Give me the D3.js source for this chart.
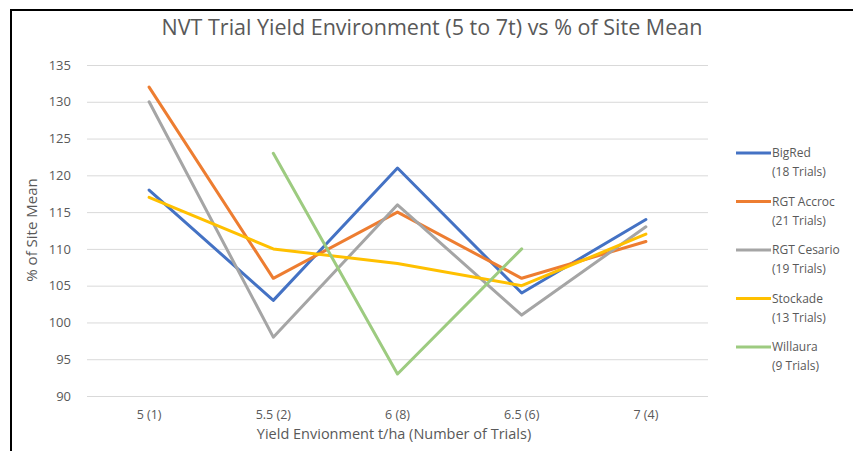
<!DOCTYPE html>
<html lang="en">
  <head>
    <meta charset="utf-8">
    <title>NVT Trial Yield Environment</title>
    <script src="https://cdnjs.cloudflare.com/ajax/libs/d3/7.8.0/d3.min.js"></script>
    <style>
      body { margin: 0; background: #fff; }
      text { font-family: "Open Sans", "Noto Sans", sans-serif; fill: #595959; }
    </style>
  </head>
  <body>
    <div id="chartContainer"></div>

    <script type="text/javascript">
      // categories along the x axis
      var categories = ["5 (1)", "5.5 (2)", "6 (8)", "6.5 (6)", "7 (4)"];

      // series values, % of site mean (null = no trials)
      var seriesNames = ["BigRed", "RGT Accroc", "RGT Cesario", "Stockade", "Willaura"];
      var seriesTrials = ["(18 Trials)", "(21 Trials)", "(19 Trials)", "(13 Trials)", "(9 Trials)"];
      var bigRed     = [118, 103, 121, 104, 114];
      var rgtAccroc  = [132, 106, 115, 106, 111];
      var rgtCesario = [130, 98, 116, 101, 113];
      var stockade   = [117, 110, 108, 105, 112];
      var willaura   = [null, 123, 93, 110, null];
      var seriesColors = ["#4472C4", "#ED7D31", "#A5A5A5", "#FFC000", "#9DCB80"];

      var yTicks = [90, 95, 100, 105, 110, 115, 120, 125, 130, 135];

      var series = [bigRed, rgtAccroc, rgtCesario, stockade, willaura].map(function(vals, i) {
        return { name: seriesNames[i], trials: seriesTrials[i], color: seriesColors[i], values: vals };
      });

      var W = 853, H = 451;
      var plot = { left: 87, right: 708, top: 65, bottom: 396 };

      var svg = d3.select("#chartContainer")
                  .append("svg")
                  .attr("width", W)
                  .attr("height", H);

      // picture frame
      svg.append("rect")
         .attr("x", 11).attr("y", 10)
         .attr("width", W + 20).attr("height", H + 20)
         .attr("fill", "none")
         .attr("stroke", "#000")
         .attr("stroke-width", 2);

      var x = d3.scaleBand()
                .domain(categories)
                .range([plot.left, plot.right]);

      var y = d3.scaleLinear()
                .domain([90, 135])
                .range([plot.bottom, plot.top]);

      // gridlines
      svg.append("g")
         .attr("transform", "translate(" + plot.left + ",0)")
         .call(d3.axisLeft(y).tickValues(yTicks).tickSize(-(plot.right - plot.left)).tickFormat(""))
         .call(function(g) {
           g.select(".domain").remove();
           g.selectAll("line").attr("stroke", "#D9D9D9").attr("stroke-width", 1);
         });

      // y tick labels
      svg.append("g")
         .attr("transform", "translate(" + (plot.left - 13) + ",0)")
         .call(d3.axisLeft(y).tickValues(yTicks).tickSize(0))
         .call(function(g) {
           g.select(".domain").remove();
           g.selectAll("text").attr("font-size", 13).attr("fill", "#595959")
            .style("font-family", "'Open Sans', sans-serif");
         });

      // x tick labels
      svg.append("g")
         .attr("transform", "translate(0," + (plot.bottom + 11) + ")")
         .call(d3.axisBottom(x).tickSize(0))
         .call(function(g) {
           g.select(".domain").remove();
           g.selectAll("text").attr("font-size", 12.5).attr("fill", "#595959")
            .style("font-family", "'Open Sans', sans-serif");
         });

      // title
      svg.append("text")
         .attr("x", 432).attr("y", 35)
         .attr("text-anchor", "middle")
         .attr("font-size", 21.5)
         .text("NVT Trial Yield Environment (5 to 7t) vs % of Site Mean");

      // axis titles
      svg.append("text")
         .attr("x", 394).attr("y", 439)
         .attr("text-anchor", "middle")
         .attr("font-size", 14.5)
         .text("Yield Envionment t/ha (Number of Trials)");

      svg.append("text")
         .attr("transform", "translate(37,230) rotate(-90)")
         .attr("text-anchor", "middle")
         .attr("font-size", 15)
         .text("% of Site Mean");

      // lines
      var line = d3.line()
                   .defined(function(d) { return d != null; })
                   .x(function(d, i) { return x(categories[i]) + x.bandwidth() / 2; })
                   .y(function(d) { return y(d); });

      svg.append("g")
         .selectAll("path")
         .data(series)
         .enter().append("path")
         .attr("d", function(d) { return line(d.values); })
         .attr("fill", "none")
         .attr("stroke", function(d) { return d.color; })
         .attr("stroke-width", 3)
         .attr("stroke-linejoin", "round")
         .attr("stroke-linecap", "round");

      // legend
      var legend = svg.append("g")
                      .selectAll("g")
                      .data(series)
                      .enter().append("g")
                      .attr("transform", function(d, i) { return "translate(736," + (153 + i * 48.5) + ")"; });

      legend.append("line")
            .attr("x1", 0).attr("x2", 35)
            .attr("stroke", function(d) { return d.color; })
            .attr("stroke-width", 3);

      legend.append("text")
            .attr("x", 36).attr("y", 4)
            .attr("font-size", 12)
            .text(function(d) { return d.name; });

      legend.append("text")
            .attr("x", 36).attr("y", 23)
            .attr("font-size", 12)
            .text(function(d) { return d.trials; });
    </script>
  </body>
</html>
